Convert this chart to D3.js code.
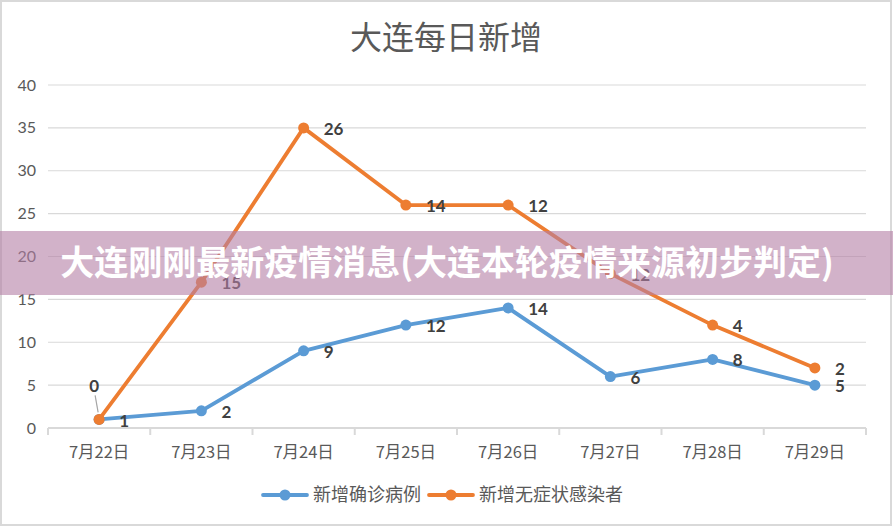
<!DOCTYPE html>
<html><head><meta charset="utf-8">
<script src="https://cdn.jsdelivr.net/npm/d3@7"></script>
<style>html,body{margin:0;padding:0;background:#fff;}svg{display:block;}</style>
</head><body>
<svg id="c" width="893" height="527"></svg>
<script>
const chartTitle = "大连每日新增";
const bannerText = "大连刚刚最新疫情消息(大连本轮疫情来源初步判定)";
const categories = ["7月22日","7月23日","7月24日","7月25日","7月26日","7月27日","7月28日","7月29日"];
const seriesNames = ["新增确诊病例","新增无症状感染者"];
const confirmed = [1,2,9,12,14,6,8,5];
const asymptomatic = [0,15,26,14,12,12,4,2];
const yTicks = [0,5,10,15,20,25,30,35,40];
const colors = ["#5B9BD5","#ED7D31"];

const svg = d3.select("#c");
const W = 893, H = 527;
const m = {left:48, right:866, top:85, bottom:428};

svg.append("rect").attr("x",1).attr("y",1).attr("width",W-3).attr("height",H-3)
  .attr("fill","#fff").attr("stroke","#D9D9D9").attr("stroke-width",2);

svg.append("text").attr("x",446).attr("y",49).attr("text-anchor","middle")
  .attr("font-family","'Noto Sans CJK SC'").attr("font-size",32).attr("fill","#595959")
  .text(chartTitle);

const x = d3.scaleBand().domain(categories).range([m.left,m.right]);
const y = d3.scaleLinear().domain([0,40]).range([m.bottom,m.top]);

svg.append("g").selectAll("line").data(yTicks.filter(t=>t>0)).join("line")
  .attr("x1",m.left).attr("x2",m.right).attr("y1",d=>y(d)).attr("y2",d=>y(d))
  .attr("stroke","#D9D9D9").attr("stroke-width",1.2);

svg.append("g").selectAll("text").data(yTicks).join("text")
  .attr("x",36).attr("y",d=>y(d)).attr("dy","0.35em").attr("text-anchor","end")
  .attr("font-family","Lato").attr("font-size",16).attr("fill","#595959").text(d=>d);

const xAxis = d3.axisBottom(x).tickSize(0).tickPadding(0);
const gx = svg.append("g").attr("transform",`translate(0,${m.bottom})`).call(xAxis);
gx.select(".domain").remove();
gx.selectAll("text").attr("dy",null).attr("y",30)
  .attr("font-family","'Noto Sans CJK SC'").attr("font-size",16.5).attr("fill","#595959");
svg.append("line").attr("x1",m.left).attr("x2",m.right).attr("y1",m.bottom).attr("y2",m.bottom)
  .attr("stroke","#D9D9D9").attr("stroke-width",2);
const bounds = categories.map(c=>x(c)).concat([x(categories[categories.length-1])+x.bandwidth()]);
svg.append("g").selectAll("line").data(bounds).join("line")
  .attr("x1",d=>d).attr("x2",d=>d).attr("y1",m.bottom).attr("y2",m.bottom+7)
  .attr("stroke","#D9D9D9").attr("stroke-width",2);

const rows = categories.map((c,i)=>({cat:c, a:confirmed[i], b:asymptomatic[i]}));
const stack = d3.stack().keys(["a","b"])(rows);
const cx = c => x(c)+x.bandwidth()/2;
const line = d3.line().x(d=>cx(d.data.cat)).y(d=>y(d[1]));

stack.forEach((s,si)=>{
  const g = svg.append("g");
  g.append("path").datum(s).attr("d",line).attr("fill","none")
    .attr("stroke",colors[si]).attr("stroke-width",3.8).attr("stroke-linejoin","round").attr("stroke-linecap","round");
  g.selectAll("circle").data(s).join("circle")
    .attr("cx",d=>cx(d.data.cat)).attr("cy",d=>y(d[1])).attr("r",5.5).attr("fill",colors[si]);
});

stack.forEach((s,si)=>{
  const vals = si===0?confirmed:asymptomatic;
  s.forEach((d,i)=>{
    const px = cx(d.data.cat), py = y(d[1]);
    if(si===1 && i===0){
      svg.append("line").attr("x1",px-4).attr("y1",py-24).attr("x2",px-1).attr("y2",py-7)
        .attr("stroke","#A6A6A6").attr("stroke-width",1.2);
      svg.append("text").attr("x",px-5).attr("y",py-33).attr("dy","0.35em").attr("text-anchor","middle")
        .attr("font-family","Lato").attr("font-weight","bold").attr("font-size",17).attr("fill","#404040").text(vals[i]);
    } else {
      svg.append("text").attr("x",px+20).attr("y",py+(si===0&&i===0?2:1)).attr("dy","0.35em")
        .attr("font-family","Lato").attr("font-weight","bold").attr("font-size",17).attr("fill","#404040").text(vals[i]);
    }
  });
});

const lg = svg.append("g");
const legX = [263,429];
seriesNames.forEach((n,i)=>{
  const lx = legX[i], ly = 495;
  lg.append("line").attr("x1",lx).attr("x2",lx+44).attr("y1",ly).attr("y2",ly)
    .attr("stroke",colors[i]).attr("stroke-width",3.8).attr("stroke-linecap","round");
  lg.append("circle").attr("cx",lx+22).attr("cy",ly).attr("r",5.5).attr("fill",colors[i]);
  lg.append("text").attr("x",lx+50).attr("y",ly).attr("dy","0.35em")
    .attr("font-family","'Noto Sans CJK SC'").attr("font-size",18).attr("fill","#595959").text(n);
});

svg.append("rect").attr("x",0).attr("y",231).attr("width",W).attr("height",64)
  .attr("fill","rgb(180,127,165)").attr("fill-opacity",0.6);
svg.append("text").attr("x",447).attr("y",263).attr("dy","0.35em").attr("text-anchor","middle")
  .attr("font-family","'Noto Sans CJK SC'").attr("font-weight","bold").attr("font-size",34)
  .attr("fill","#fff").text(bannerText);
</script>
</body></html>
